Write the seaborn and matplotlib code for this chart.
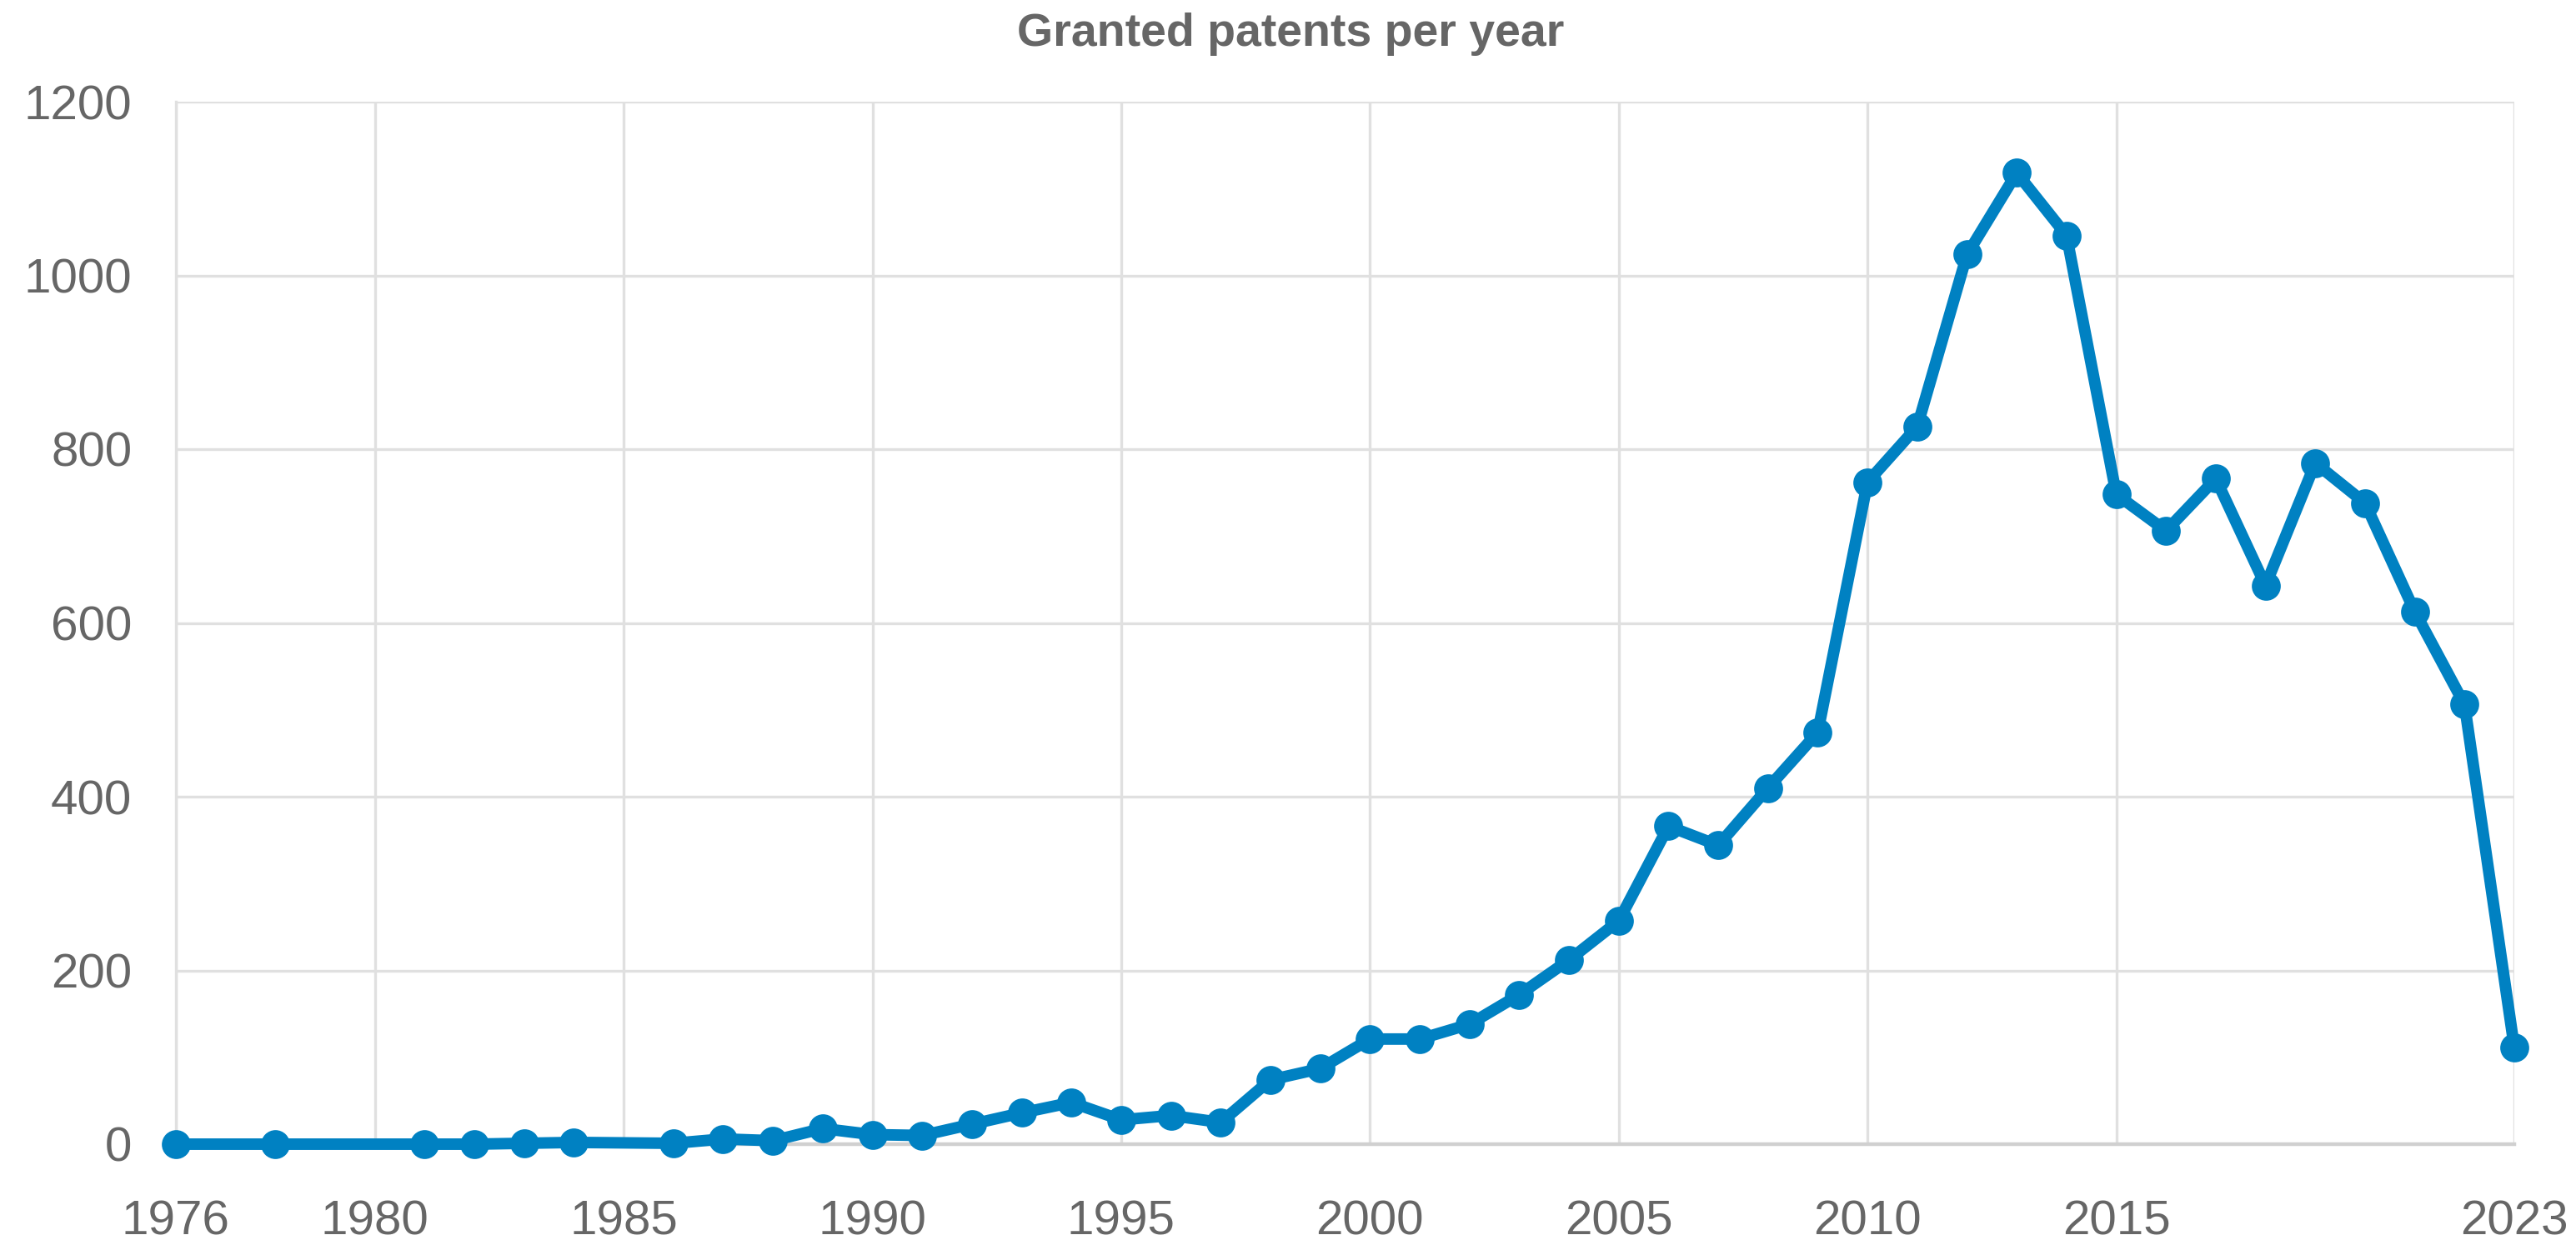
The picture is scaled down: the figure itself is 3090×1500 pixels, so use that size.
"""Granted patents per year — line chart with markers."""

import matplotlib

matplotlib.use("Agg")
import matplotlib.pyplot as plt
import pandas as pd
import seaborn as sns

# data (years with no point are missing on purpose)
years = [1976, 1978, 1981, 1982, 1983, 1984,
         1986, 1987, 1988, 1989, 1990, 1991, 1992, 1993, 1994, 1995,
         1996, 1997, 1998, 1999, 2000, 2001, 2002, 2003, 2004, 2005,
         2006, 2007, 2008, 2009, 2010, 2011, 2012, 2013, 2014, 2015,
         2016, 2017, 2018, 2019, 2020, 2021, 2022, 2023]
patents = [0, 0, 0, 0, 1, 2,
           1, 6, 4, 18, 11, 10, 23, 36, 48, 28,
           33, 25, 74, 87, 121, 121, 138, 172, 212, 257,
           366, 344, 410, 474, 762, 826, 1024, 1118, 1046, 748,
           706, 766, 643, 784, 738, 613, 506, 111]
x_ticks = [1976, 1980, 1985, 1990, 1995, 2000, 2005, 2010, 2015, 2023]
y_ticks = [0, 200, 400, 600, 800, 1000, 1200]

df = pd.DataFrame({"year": years, "patents": patents})

sns.set_theme(style="white")
plt.rcParams["font.family"] = ["Liberation Sans", "DejaVu Sans"]

LINE = "#0081c2"
GRID = "#e0e0e0"
TEXT = "#666666"

fig = plt.figure(figsize=(30.9, 15), dpi=100)
ax = fig.add_axes([211 / 3090, 1 - 1373 / 1500, (3016 - 211) / 3090, (1373 - 122) / 1500])

sns.lineplot(data=df, x="year", y="patents", ax=ax, color=LINE, linewidth=10,
             marker="o", markersize=25, markeredgewidth=0, clip_on=False, zorder=5)

ax.set_xlim(1976, 2023)
ax.set_ylim(0, 1200)
ax.set_xticks(x_ticks)
ax.set_yticks(y_ticks)
ax.set_xlabel("")
ax.set_ylabel("")

ax.grid(True, color=GRID, linewidth=2.4)
for side in ("top", "right"):
    ax.spines[side].set_visible(False)
ax.spines["left"].set_color(GRID)
ax.spines["left"].set_linewidth(2.4)
ax.spines["bottom"].set_color("#d0d0d0")
ax.spines["bottom"].set_linewidth(3.2)

ax.tick_params(axis="x", length=28, width=2, color=GRID, pad=20,
               labelsize=42, labelcolor=TEXT)
ax.tick_params(axis="y", length=29, width=2.8, color=GRID, pad=9,
               labelsize=42, labelcolor=TEXT)

fig.text(0.501, 1 - 41 / 1500, "Granted patents per year", ha="center", va="center",
         fontsize=40, fontweight="bold", color=TEXT)

fig.savefig("out.png", dpi=100, facecolor="white")
plt.close(fig)
